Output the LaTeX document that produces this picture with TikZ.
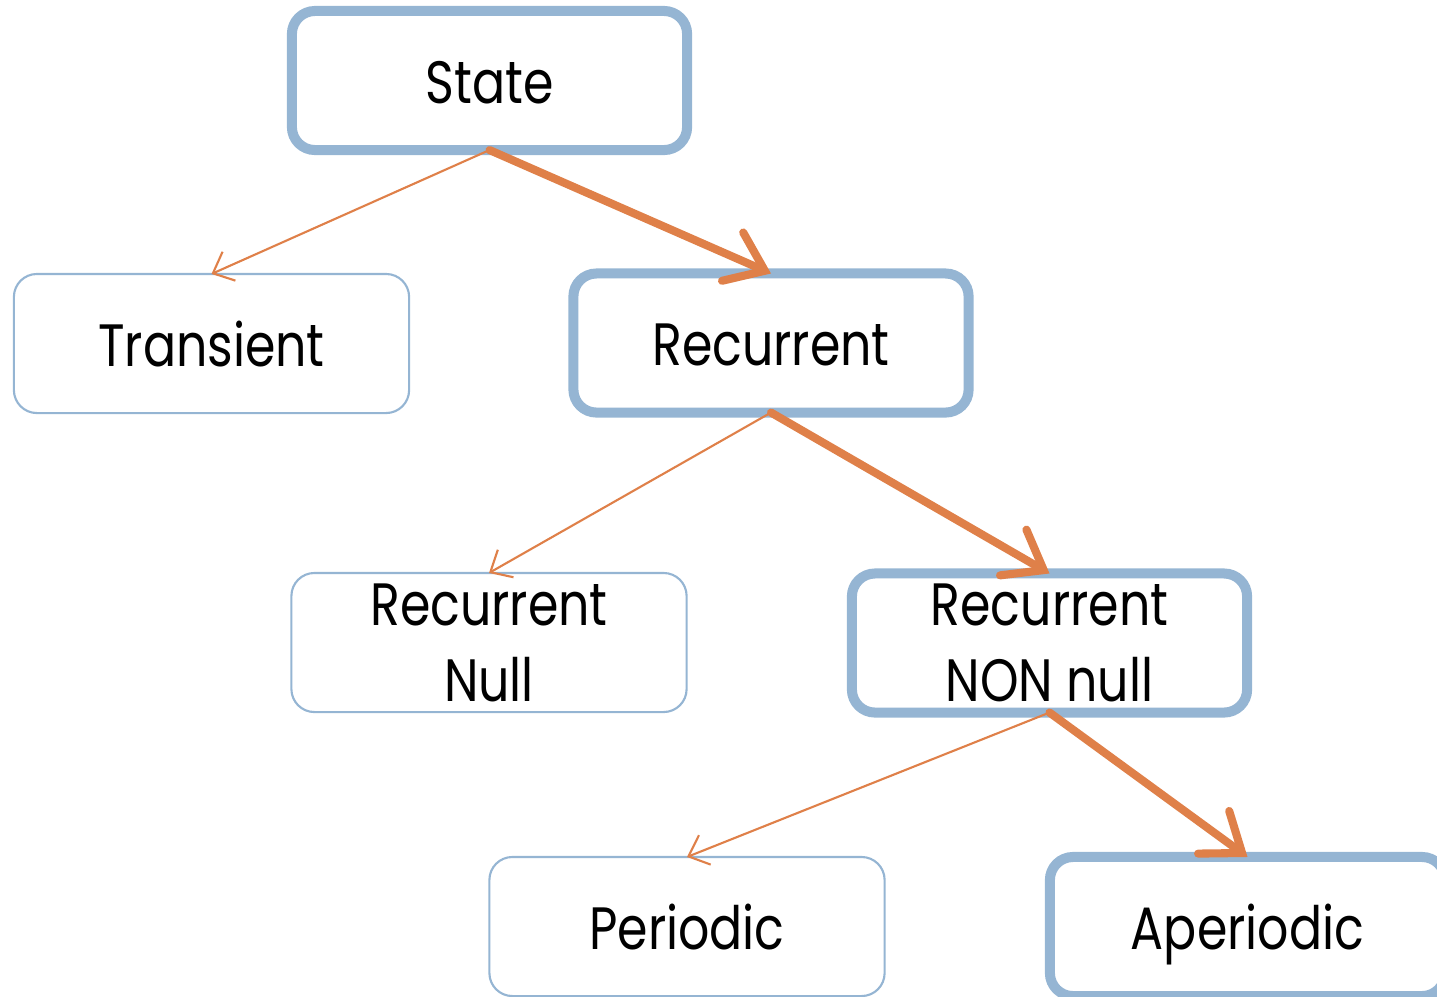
\documentclass[tikz,border=0pt]{standalone}
\usepackage{fontspec}
\setmainfont{Poppins}[FakeStretch=0.82]
\usepackage{xcolor}
\usetikzlibrary{arrows.meta}
\definecolor{mkblue}{HTML}{95B5D3}
\definecolor{mkorange}{HTML}{DF8049}
\tikzset{
  mkbox/.style={draw=mkblue, fill=white, rounded corners=0.23cm, minimum width=3.95cm,
    minimum height=1.39cm, inner sep=0pt, outer sep=0pt, align=center,
    font=\fontsize{17}{21.6}\selectfont},
  mkone/.style={text height=15pt, text depth=2.2pt},
  mkthin/.style={mkbox, line width=0.6pt},
  mkthick/.style={mkbox, line width=2.85pt},
  mkarrow/.style={draw=mkorange, line width=0.6pt, -{Straight Barb[length=5pt,width=9pt]}},
  mkbold/.style={draw=mkorange, line width=2.3pt, line cap=round,
    -{Straight Barb[length=10pt,width=15pt,line cap=round]}},
}
\begin{document}
\begin{tikzpicture}[x=0.01cm, y=-0.01cm]
\useasboundingbox (0,0) rectangle (1437,996);
\clip (0,0) rectangle (1437,996);
\node[mkthick, mkone] (state) at (489.5,80.5) {State};
\node[mkthin, mkone] (trans) at (211.5,343.5) {Transient};
\node[mkthick, mkone] (rec) at (771,343) {Recurrent};
\node[mkthin] (null) at (489,642.5) {Recurrent\\Null};
\node[mkthick] (nonnull) at (1049.5,643) {Recurrent\\NON null};
\node[mkthin, mkone] (per) at (687,926.5) {Periodic};
\node[mkthick, mkone] (aper) at (1247.5,926.5) {Aperiodic};
\draw[mkarrow] (state.south) -- (trans.north);
\draw[mkbold] (state.south) -- (rec.north);
\draw[mkarrow] (rec.south) -- (null.north);
\draw[mkbold] (rec.south) -- (nonnull.north);
\draw[mkarrow] (nonnull.south) -- (per.north);
\draw[mkbold] (nonnull.south) -- (aper.north);
\end{tikzpicture}
\end{document}
